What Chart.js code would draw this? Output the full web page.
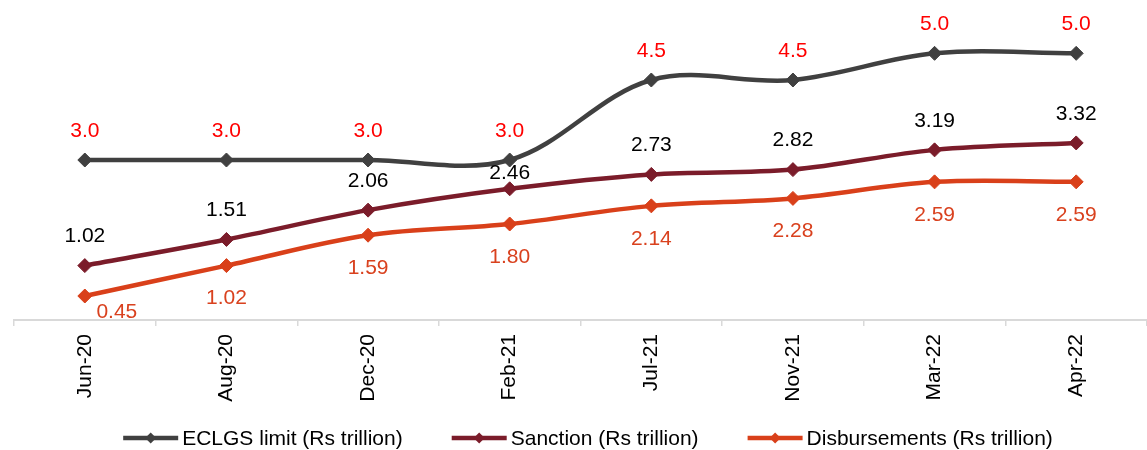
<!DOCTYPE html>
<html>
<head>
<meta charset="utf-8">
<script src="https://cdn.jsdelivr.net/npm/chart.js@4.4.1/dist/chart.umd.min.js"></script>
<style>
  html, body { margin: 0; padding: 0; background: #ffffff; }
  #wrap { width: 1147px; height: 450px; position: relative; }
</style>
</head>
<body>
<div id="wrap"><canvas id="c" width="1147" height="450"></canvas></div>
<script>
const categories = ['Jun-20', 'Aug-20', 'Dec-20', 'Feb-21', 'Jul-21', 'Nov-21', 'Mar-22', 'Apr-22'];
const eclgsLimit = [3.0, 3.0, 3.0, 3.0, 4.5, 4.5, 5.0, 5.0];
const sanction = [1.02, 1.51, 2.06, 2.46, 2.73, 2.82, 3.19, 3.32];
const disbursements = [0.45, 1.02, 1.59, 1.80, 2.14, 2.28, 2.59, 2.59];
const seriesNames = ['ECLGS limit (Rs trillion)', 'Sanction (Rs trillion)', 'Disbursements (Rs trillion)'];
const labelDecimals = [1, 2, 2];

const FONT = '"Liberation Sans", Arial, sans-serif';
const lineColors = ['#404040', '#7B1C2A', '#D9401A'];
const labelColors = ['#FF0000', '#000000', '#D9411E'];
const labelPlacement = ['above', 'above', 'below'];
// label nudges {dataset: {index: [dx, dy]}} relative to default placement
const labelNudge = { 1: { 3: [0, 13] }, 2: { 0: [32, -17] } };

const dataLabelPlugin = {
  id: 'dataLabels',
  afterDatasetsDraw(chart) {
    const ctx = chart.ctx;
    ctx.save();
    ctx.font = '21px ' + FONT;
    ctx.textAlign = 'center';
    ctx.textBaseline = 'middle';
    chart.data.datasets.forEach((ds, di) => {
      const meta = chart.getDatasetMeta(di);
      meta.data.forEach((pt, i) => {
        const v = ds.data[i];
        let dx = 0, dy = labelPlacement[di] === 'above' ? -29 : 33;
        const n = labelNudge[di] && labelNudge[di][i];
        if (n) { dx += n[0]; dy += n[1]; }
        ctx.fillStyle = labelColors[di];
        ctx.fillText(v.toFixed(labelDecimals[di]), pt.x + dx, pt.y + dy);
      });
    });
    ctx.restore();
  }
};

const legendPlugin = {
  id: 'lineLegend',
  afterDraw(chart) {
    const ctx = chart.ctx;
    ctx.save();
    ctx.font = '21px ' + FONT;
    ctx.textBaseline = 'middle';
    ctx.textAlign = 'left';
    const lineLen = 55, gap = 4, spacing = 49;
    const items = chart.data.datasets.map((ds, i) => ({
      label: ds.label, color: ds.borderColor, w: ctx.measureText(ds.label).width
    }));
    const total = items.reduce((s, it) => s + lineLen + gap + it.w, 0) + spacing * (items.length - 1);
    let x = 588 - total / 2;
    const y = 438;
    items.forEach(it => {
      ctx.strokeStyle = it.color;
      ctx.lineWidth = 4.5;
      ctx.beginPath();
      ctx.moveTo(x, y);
      ctx.lineTo(x + lineLen, y);
      ctx.stroke();
      const cx = x + lineLen / 2, r = 5.5;
      ctx.fillStyle = it.color;
      ctx.beginPath();
      ctx.moveTo(cx, y - r); ctx.lineTo(cx + r, y); ctx.lineTo(cx, y + r); ctx.lineTo(cx - r, y);
      ctx.closePath();
      ctx.fill();
      ctx.fillStyle = '#000000';
      ctx.fillText(it.label, x + lineLen + gap, y + 1);
      x += lineLen + gap + it.w + spacing;
    });
    ctx.restore();
  }
};

const mk = (i, data) => ({
  label: seriesNames[i],
  data: data,
  borderColor: lineColors[i],
  backgroundColor: lineColors[i],
  borderWidth: 4.5,
  pointStyle: 'rectRot',
  pointRadius: 7,
  pointBorderWidth: 1,
  pointBackgroundColor: lineColors[i],
  pointBorderColor: lineColors[i],
  tension: 0.35,
  fill: false,
  clip: false,
  order: 3 - i
});

new Chart(document.getElementById('c'), {
  type: 'line',
  data: {
    labels: categories,
    datasets: [mk(0, eclgsLimit), mk(1, sanction), mk(2, disbursements)]
  },
  options: {
    responsive: false,
    animation: false,
    events: [],
    layout: { autoPadding: false, padding: { left: 14, right: 0, top: 0, bottom: 40 } },
    plugins: { legend: { display: false }, tooltip: { enabled: false } },
    scales: {
      y: { display: false, min: 0, max: 6 },
      x: {
        offset: true,
        grid: { offset: true, drawOnChartArea: false, drawTicks: true, tickLength: 6, color: '#D9D9D9', lineWidth: 1.5 },
        border: { display: true, color: '#D9D9D9', width: 2 },
        ticks: { minRotation: 90, maxRotation: 90, padding: 8, color: '#000000', font: { family: FONT, size: 21 } },
        afterFit(scale) { scale.height = 90; scale.paddingLeft = 0; scale.paddingRight = 0; }
      }
    }
  },
  plugins: [dataLabelPlugin, legendPlugin]
});
</script>
</body>
</html>
